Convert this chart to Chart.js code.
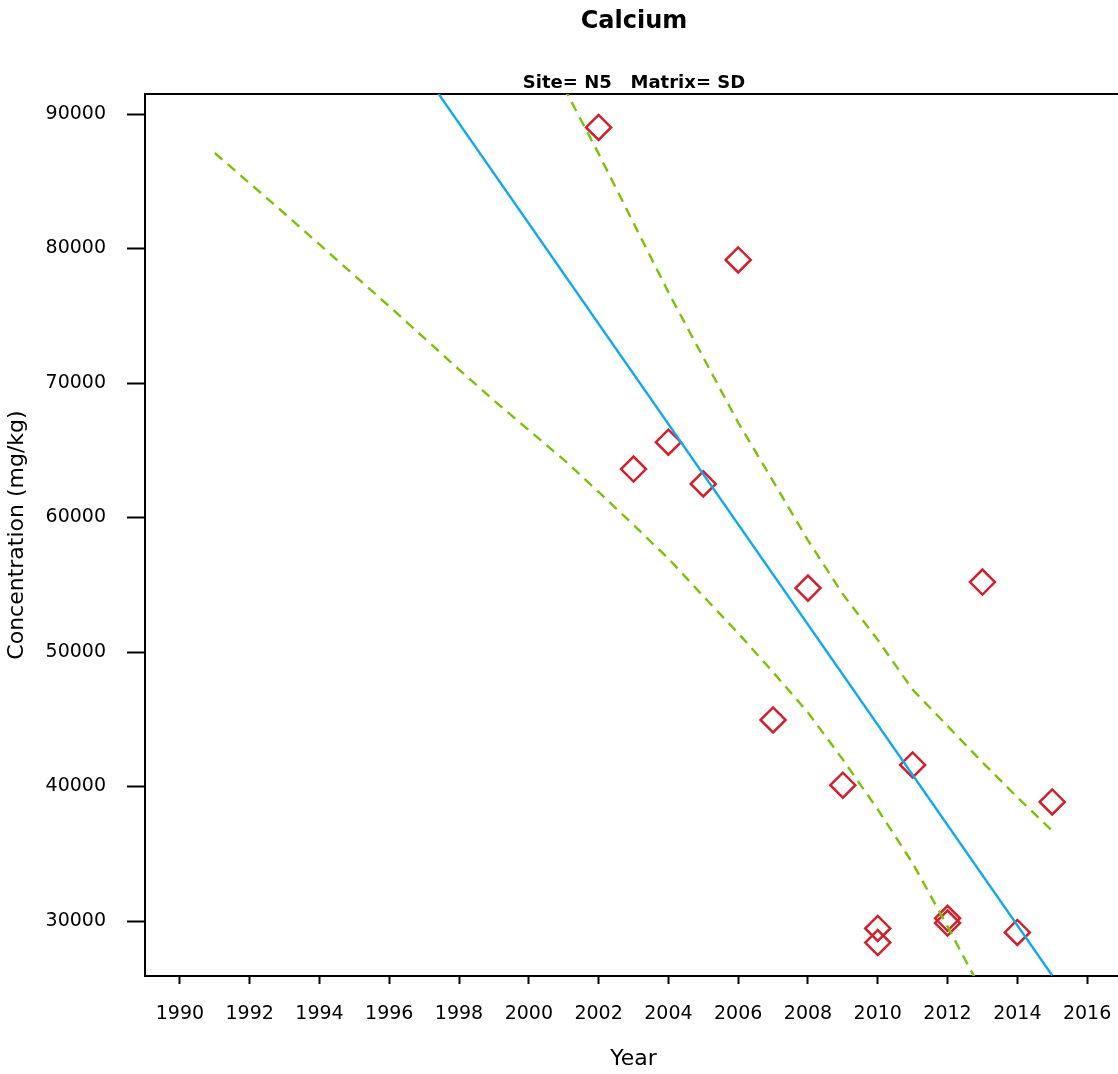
<!DOCTYPE html>
<html>
<head>
<meta charset="utf-8">
<title>Calcium</title>
<script src="https://cdn.jsdelivr.net/npm/chart.js@4.4.1/dist/chart.umd.min.js"></script>
<style>
  html, body { margin: 0; padding: 0; background: #fff; overflow: hidden; }
  #wrap { position: relative; width: 1268px; height: 1074px; }
</style>
</head>
<body>
<div id="wrap"><canvas id="chart" width="1268" height="1074"></canvas></div>
<script>
// Observed calcium concentrations (mg/kg) by sampling year
const sampleYears = [2002, 2003, 2004, 2005, 2006, 2007, 2008, 2009, 2010, 2010, 2011, 2012, 2012, 2013, 2014, 2015];
const concentrations = [89000, 63600, 65600, 62500, 79150, 44950, 54750, 40100, 29450, 28400, 41600, 30200, 29850, 55200, 29150, 38850];

// Fitted trend line end points
const trendYears = [1991, 2015];
const trendValues = [115400, 25950];

// Lower confidence band
const lowerYears = [1991, 1992, 1993, 1994, 1995, 1996, 1997, 1998, 1999, 2000, 2001, 2002,
                    2003, 2004, 2005, 2006, 2007, 2008, 2009, 2010, 2011, 2012, 2013];
const lowerValues = [87100, 84850, 82600, 80300, 78000, 75700, 73350, 71000, 68700, 66500, 64300, 61900,
                     59450, 56950, 54150, 51400, 48500, 45500, 42000, 38300, 34300, 29600, 24700];

// Upper confidence band
const upperYears = [2001, 2002, 2003, 2004, 2005, 2006, 2007, 2008, 2009, 2010, 2011, 2012, 2013, 2014, 2015];
const upperValues = [92000, 87050, 81900, 76750, 71900, 67050, 62700, 58300, 54300, 50900, 47200, 44500, 41800, 39200, 36700];

// Axis ticks
const xTicks = [1990, 1992, 1994, 1996, 1998, 2000, 2002, 2004, 2006, 2008, 2010, 2012, 2014, 2016];
const yTicks = [30000, 40000, 50000, 60000, 70000, 80000, 90000];

const FONT = "'DejaVu Sans', sans-serif";
const RED = '#d41f2b';
const BLUE = '#12a8f0';
const GREEN = '#7dbf0a';

const pairs = (xs, ys) => xs.map((x, i) => ({ x: x, y: ys[i] }));

new Chart(document.getElementById('chart'), {
  type: 'scatter',
  data: {
    datasets: [
      {
        label: 'Upper band',
        data: pairs(upperYears, upperValues),
        showLine: true,
        borderColor: GREEN,
        borderWidth: 2.4,
        borderDash: [10, 7],
        pointRadius: 0,
        fill: false
      },
      {
        label: 'Lower band',
        data: pairs(lowerYears, lowerValues),
        showLine: true,
        borderColor: GREEN,
        borderWidth: 2.4,
        borderDash: [10, 7],
        pointRadius: 0,
        fill: false
      },
      {
        label: 'Trend',
        data: pairs(trendYears, trendValues),
        showLine: true,
        borderColor: BLUE,
        borderWidth: 2.4,
        pointRadius: 0,
        fill: false
      },
      {
        label: 'Calcium',
        data: pairs(sampleYears, concentrations),
        showLine: false,
        pointStyle: 'rectRot',
        pointRadius: 12.5,
        pointHoverRadius: 12.5,
        pointBorderWidth: 2.5,
        pointBorderColor: RED,
        pointBackgroundColor: 'rgba(0,0,0,0)',
        borderColor: RED,
        backgroundColor: 'rgba(0,0,0,0)'
      }
    ]
  },
  options: {
    responsive: false,
    animation: false,
    events: [],
    layout: { padding: 0 },
    plugins: {
      legend: { display: false },
      tooltip: { enabled: false },
      title: {
        display: true,
        text: 'Calcium',
        color: '#000',
        font: { family: FONT, size: 24, weight: 'bold', lineHeight: 1.2 },
        padding: { top: 7, bottom: 0 }
      },
      subtitle: {
        display: true,
        text: 'Site= N5   Matrix= SD',
        color: '#000',
        font: { family: FONT, size: 18, weight: 'bold', lineHeight: 1.2 },
        padding: { top: 36.4, bottom: 0.2 }
      }
    },
    scales: {
      x: {
        type: 'linear',
        position: 'bottom',
        min: 1989,
        max: 2017,
        afterBuildTicks: s => { s.ticks = xTicks.map(v => ({ value: v })); },
        afterFit: s => { s.height = 98; },
        ticks: {
          color: '#000',
          font: { family: FONT, size: 19 },
          padding: 19,
          maxRotation: 0,
          autoSkip: false,
          callback: v => String(v)
        },
        grid: { display: true, drawOnChartArea: false, drawTicks: true, tickLength: 8, tickColor: '#000', tickWidth: 2, color: '#000' },
        border: { display: true, color: '#000', width: 2 },
        title: {
          display: true,
          text: 'Year',
          color: '#000',
          font: { family: FONT, size: 22, lineHeight: 1.2 },
          padding: { top: 2, bottom: 2 }
        }
      },
      xTop: {
        type: 'linear',
        position: 'top',
        min: 1989,
        max: 2017,
        afterFit: s => { s.height = 0; },
        ticks: { display: false },
        grid: { display: false, drawTicks: false },
        border: { display: true, color: '#000', width: 2 }
      },
      y: {
        type: 'linear',
        position: 'left',
        min: 25911,
        max: 91487,
        afterBuildTicks: s => { s.ticks = yTicks.map(v => ({ value: v })); },
        afterFit: s => { s.width = 145; },
        ticks: {
          color: '#000',
          font: { family: FONT, size: 19 },
          padding: 21,
          autoSkip: false,
          callback: v => String(v)
        },
        grid: { display: true, drawOnChartArea: false, drawTicks: true, tickLength: 18, tickColor: '#000', tickWidth: 2, color: '#000' },
        border: { display: true, color: '#000', width: 2 },
        title: {
          display: true,
          text: 'Concentration (mg/kg)',
          color: '#000',
          font: { family: FONT, size: 22, lineHeight: 1.2 },
          padding: { top: 4, bottom: 4 }
        }
      },
      yRight: {
        type: 'linear',
        position: 'right',
        afterFit: s => { s.width = 146; },
        ticks: { display: false },
        grid: { display: false, drawTicks: false },
        border: { display: false }
      }
    }
  }
});
</script>
</body>
</html>
